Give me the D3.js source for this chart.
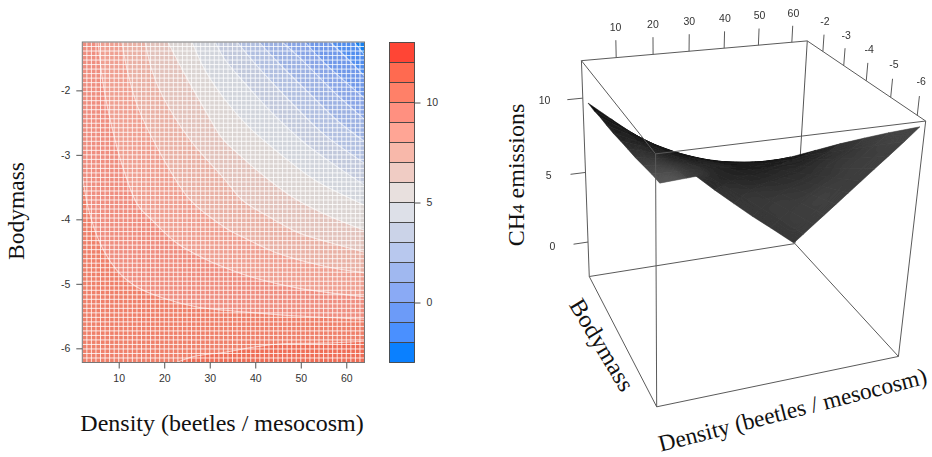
<!DOCTYPE html>
<html>
<head>
<meta charset="utf-8">
<script src="https://cdn.jsdelivr.net/npm/d3@7"></script>
<style>
  html, body { margin: 0; background: #fff; }
  svg { display: block; }
  .tick-label { font-family: 'Liberation Sans', sans-serif; font-size: 10.5px; fill: #333; }
  .title { font-family: 'Liberation Serif', serif; font-size: 24px; fill: #111; }
</style>
</head>
<body>
<svg id="chart" width="932" height="457"></svg>
<script>
// colour key: one colour per unit of CH4, from -3 up to 13
const keyBreaks = d3.range(-3, 14);
const keyColors = ['#0a80ff', '#4a90ff', '#6c9bf8', '#8aaaf5', '#a0b8f0', '#b8c8ee', '#cbd3e8', '#dde0e8',
  '#e8e0de', '#f0ccc4', '#f8b8aa', '#ffa595', '#ff9080', '#ff8068', '#ff6a50', '#ff4535'];
const keyTicks = [0, 5, 10];

const densityTicks = [10, 20, 30, 40, 50, 60];
const bodymassTicks = [-2, -3, -4, -5, -6];
const zTicks = [0, 5, 10];

// contour lines, [density, bodymass]
const lineM2 = [[61.7, -1.25], [64, -1.45]];
const lineM1 = [[56.4, -1.25], [60.6, -1.53], [64, -1.78]];
const line0 = [[50.9, -1.25], [55.3, -1.58], [64, -2.12]];
const line1 = [[45.9, -1.25], [50.3, -1.53], [56.9, -2], [64, -2.45]];
const line2 = [[40.8, -1.25], [45.2, -1.58], [51.8, -2.04], [58.4, -2.49], [64, -2.79]];
const line3 = [[36, -1.25], [39.9, -1.58], [47.4, -2.15], [54.7, -2.66], [64, -3.13]];
const line4 = [[31.2, -1.25], [33.4, -1.53], [37.1, -1.84], [43.7, -2.35], [50.9, -2.82], [57.5, -3.16], [64, -3.47]];
const line5 = [[26.1, -1.25], [29, -1.69], [33.4, -2.15], [38.6, -2.57], [45.2, -2.97], [53.1, -3.39], [60.1, -3.65], [64, -3.78]];
const line6 = [[20.8, -1.25], [24.6, -1.76], [29, -2.31], [32.7, -2.74], [37.3, -3.05], [42.1, -3.34], [48.5, -3.67], [54.7, -3.9], [64, -4.17]];
const line7 = [[15.8, -1.25], [17.3, -1.69], [19.7, -2.1], [25.7, -2.77], [33.4, -3.39], [37.1, -3.7], [43, -3.96], [49.6, -4.21], [56.9, -4.37], [64, -4.51]];
const line8 = [[10.7, -1.25], [12, -1.73], [14.2, -2.26], [19.1, -2.97], [25.7, -3.7], [33.4, -4.13], [37.7, -4.29], [44.3, -4.51], [54.7, -4.72], [64, -4.83]];
const line9 = [[5.45, -1.25], [6.55, -1.89], [8.5, -2.57], [10.9, -3.19], [14.2, -3.78], [17.3, -4.01], [22.8, -4.37], [29.4, -4.63], [33.4, -4.75], [39.9, -4.91], [49.6, -5.07], [64, -5.2]];
const line10 = [[2, -3.3], [3.25, -3.81], [5.9, -4.37], [9.6, -4.79], [14, -5.05], [19.7, -5.22], [27.2, -5.36], [33.4, -5.41], [39.9, -5.45], [49.6, -5.5], [64, -5.55]];
const line11 = [[22.4, -6.23], [26.3, -6.13], [33.4, -6.06], [39.9, -5.98], [45.9, -5.93], [54.7, -5.92], [64, -5.89]];
const contourLines = [lineM2, lineM1, line0, line1, line2, line3, line4, line5, line6, line7, line8, line9, line10, line11];
const contourLevels = d3.range(-2, 12);

// surface heights for the right panel
const surfaceDensity = [2, 8, 14, 20, 26, 32, 38, 44, 50, 56, 64];
const surfaceBodymass = [-1.25, -1.75, -2.25, -2.75, -3.25, -3.75, -4.25, -4.75, -5.25, -5.75, -6.22];
const surfaceZ = [
  [9.7, 8.51, 7.35, 6.15, 5.0, 3.85, 2.58, 1.37, 0.18, -0.93, -2.45],
  [9.74, 8.72, 7.68, 6.66, 5.68, 4.65, 3.62, 2.6, 1.5, 0.45, -1.0],
  [9.85, 8.93, 8.03, 7.17, 6.33, 5.4, 4.55, 3.72, 2.75, 1.78, 0.45],
  [9.9, 9.13, 8.38, 7.67, 6.95, 6.12, 5.42, 4.72, 3.92, 3.07, 1.9],
  [9.97, 9.33, 8.72, 8.13, 7.53, 6.85, 6.25, 5.65, 5.02, 4.33, 3.35],
  [10.1, 9.56, 9.07, 8.6, 8.12, 7.58, 7.08, 6.56, 6.07, 5.55, 4.8],
  [10.2, 9.8, 9.42, 9.07, 8.7, 8.32, 7.93, 7.5, 7.12, 6.74, 6.25],
  [10.3, 10.05, 9.78, 9.55, 9.3, 9.05, 8.78, 8.48, 8.22, 7.95, 7.7],
  [10.45, 10.3, 10.15, 10.03, 9.9, 9.78, 9.65, 9.5, 9.37, 9.25, 9.15],
  [10.6, 10.55, 10.5, 10.5, 10.5, 10.5, 10.53, 10.55, 10.55, 10.58, 10.6],
  [10.7, 10.78, 10.87, 10.96, 11.08, 11.2, 11.4, 11.6, 11.75, 11.88, 12]
];

const svg = d3.select('#chart');
const defs = svg.append('defs');
defs.append('filter').attr('id', 'soft').append('feGaussianBlur').attr('stdDeviation', 0.4);
defs.append('filter').attr('id', 'wash').append('feGaussianBlur').attr('stdDeviation', 6);

// ---- left panel ----
const x = d3.scaleLinear().domain([2, 64]).range([82.3, 364.5]);
const y = d3.scaleLinear().domain([-1.25, -6.22]).range([42, 362.5]);
const color = d3.scaleThreshold().domain(keyBreaks.slice(1, -1)).range(keyColors);

defs.append('clipPath').attr('id', 'plot-clip').append('rect')
  .attr('x', x(2)).attr('y', y(-1.25))
  .attr('width', x(64) - x(2)).attr('height', y(-6.22) - y(-1.25));

const heat = svg.append('g').attr('clip-path', 'url(#plot-clip)')
  .append('g').attr('filter', 'url(#soft)');

const contourPath = d3.line().x(d => x(d[0])).y(d => y(d[1])).curve(d3.curveCatmullRom);

function corners(level) {
  if (level === 11) return [[64, -6.22]];
  if (level === 10) return [[64, -6.22], [2, -6.22]];
  return [[64, -6.22], [2, -6.22], [2, -1.25]];
}

heat.append('rect')
  .attr('x', x(2)).attr('y', y(-1.25))
  .attr('width', x(64) - x(2)).attr('height', y(-6.22) - y(-1.25))
  .attr('fill', color(-2.5));

heat.selectAll('path.band')
  .data(contourLevels)
  .enter()
  .append('path')
  .attr('class', 'band')
  .attr('fill', d => color(d + 0.5))
  .attr('d', (d, i) => {
    const closing = corners(d).map(c => `L${x(c[0])},${y(c[1])}`).join('');
    return contourPath(contourLines[i]) + closing + 'Z';
  });

// the printed map is duller than its key
heat.append('rect')
  .attr('x', x(2)).attr('y', y(-1.25))
  .attr('width', x(64) - x(2)).attr('height', y(-6.22) - y(-1.25))
  .attr('fill', '#808080').attr('fill-opacity', 0.13);

// white outline of every levelplot cell
heat.selectAll('line.col')
  .data(d3.range(2, 65))
  .enter()
  .append('line')
  .attr('class', 'col')
  .attr('x1', d => x(d)).attr('x2', d => x(d))
  .attr('y1', y(-1.25)).attr('y2', y(-6.22))
  .attr('stroke', '#fff').attr('stroke-opacity', 0.8);

heat.selectAll('line.row')
  .data(d3.range(-6.22, -1.2, 0.07))
  .enter()
  .append('line')
  .attr('class', 'row')
  .attr('x1', x(2)).attr('x2', x(64))
  .attr('y1', d => y(d)).attr('y2', d => y(d))
  .attr('stroke', '#fff').attr('stroke-opacity', 0.8);

heat.selectAll('path.contour')
  .data(contourLines)
  .enter()
  .append('path')
  .attr('class', 'contour')
  .attr('fill', 'none')
  .attr('stroke', '#fff')
  .attr('stroke-opacity', 0.6)
  .attr('stroke-width', 1.1)
  .attr('d', contourPath);

svg.append('rect')
  .attr('x', x(2)).attr('y', y(-1.25))
  .attr('width', x(64) - x(2)).attr('height', y(-6.22) - y(-1.25))
  .attr('fill', 'none').attr('stroke', '#777');

const xAxis = svg.append('g')
  .attr('transform', `translate(0, ${y(-6.22)})`)
  .call(d3.axisBottom(x).tickValues(densityTicks).tickSize(6).tickPadding(6).tickFormat(String));
const yAxis = svg.append('g')
  .attr('transform', `translate(${x(2)}, 0)`)
  .call(d3.axisLeft(y).tickValues(bodymassTicks).tickSize(6).tickPadding(6).tickFormat(String));

// colour key
const keyY = d3.scaleLinear().domain([-3, 13]).range([362.5, 42.5]);
const keyX = [389.5, 414.5];

svg.append('g').selectAll('rect')
  .data(keyColors)
  .enter()
  .append('rect')
  .attr('x', keyX[0])
  .attr('y', (d, i) => keyY(keyBreaks[i + 1]))
  .attr('width', keyX[1] - keyX[0])
  .attr('height', (d, i) => keyY(keyBreaks[i]) - keyY(keyBreaks[i + 1]))
  .attr('fill', d => d)
  .attr('stroke', '#444')
  .attr('stroke-width', 0.9);

const keyAxis = svg.append('g')
  .attr('transform', `translate(${keyX[1]}, 0)`)
  .call(d3.axisRight(keyY).tickValues(keyTicks).tickSize(6).tickPadding(6).tickFormat(String));

[xAxis, yAxis, keyAxis].forEach(a => {
  a.select('.domain').remove();
  a.selectAll('line').attr('stroke', '#555');
  a.selectAll('text').attr('class', 'tick-label').attr('fill', null);
  a.attr('font-family', null).attr('font-size', null);
});

svg.append('text').attr('class', 'title')
  .attr('text-anchor', 'middle')
  .attr('transform', 'translate(24, 211) rotate(-90)')
  .attr('textLength', 98).attr('lengthAdjust', 'spacingAndGlyphs')
  .text('Bodymass');

svg.append('text').attr('class', 'title')
  .attr('text-anchor', 'middle')
  .attr('x', 222).attr('y', 431)
  .text('Density (beetles / mesocosm)');

// ---- right panel: a persp() box, a little wider than the surface ----
const dLo = 0.8, dHi = 64.7, mHi = -1.2, mLo = -6.3, zTop = 12.4, zBottom = -2.6;
const u = d3.scaleLinear().domain([dLo, dHi]).range([0, 1]);
const v = d3.scaleLinear().domain([mHi, mLo]).range([0, 1]);
const w = d3.scaleLinear().domain([zBottom, zTop]).range([0, 1]);

// where the box corners sit on the page, [u, v, w, px, py]
const boxCorners = [
  [0, 0, 1, 581.3, 60.7], [1, 0, 1, 807.3, 41], [1, 1, 1, 925.7, 121], [0, 1, 1, 655.7, 153.7],
  [0, 0, 0, 589.3, 276.7], [1, 0, 0, 795, 243.3], [1, 1, 0, 898.3, 356.7], [0, 1, 0, 656.7, 406.7]
];

// fit the projective camera to the corners by least squares
function fitCamera(pts) {
  const rows = [];
  pts.forEach(([a, b, c, sx, sy]) => {
    rows.push([a, b, c, 1, 0, 0, 0, 0, -sx * a, -sx * b, -sx * c, sx]);
    rows.push([0, 0, 0, 0, a, b, c, 1, -sy * a, -sy * b, -sy * c, sy]);
  });
  const n = 11;
  const m = d3.range(n).map(i => d3.range(n + 1).map(j => d3.sum(rows, r => r[i] * r[j])));
  for (let i = 0; i < n; i++) {
    let p = i;
    for (let k = i + 1; k < n; k++) if (Math.abs(m[k][i]) > Math.abs(m[p][i])) p = k;
    [m[i], m[p]] = [m[p], m[i]];
    for (let k = 0; k < n; k++) {
      if (k === i) continue;
      const f = m[k][i] / m[i][i];
      for (let j = i; j <= n; j++) m[k][j] -= f * m[i][j];
    }
  }
  return m.map((r, i) => r[n] / r[i]);
}
const cam = fitCamera(boxCorners);

function project(density, bodymass, z) {
  const a = u(density), b = v(bodymass), c = w(z);
  const d = cam[8] * a + cam[9] * b + cam[10] * c + 1;
  return [
    (cam[0] * a + cam[1] * b + cam[2] * c + cam[3]) / d,
    (cam[4] * a + cam[5] * b + cam[6] * c + cam[7]) / d
  ];
}

const boxLine = d3.line();
const edge = (p, q) => boxLine([project(...p), project(...q)]);

const right = svg.append('g').attr('filter', 'url(#soft)');

// the back edge that the surface hides
right.append('path')
  .attr('d', edge([dHi, mHi, zTop], [dHi, mHi, zBottom]))
  .attr('stroke', '#555').attr('fill', 'none');

// facets, back row first; lighter the more squarely they face the camera
const facets = [];
surfaceBodymass.slice(0, -1).forEach((m0, i) => {
  const m1 = surfaceBodymass[i + 1];
  surfaceDensity.slice(0, -1).forEach((d0, j) => {
    const d1 = surfaceDensity[j + 1];
    const quad = [[d0, m0, surfaceZ[i][j]], [d1, m0, surfaceZ[i][j + 1]], [d1, m1, surfaceZ[i + 1][j + 1]], [d0, m1, surfaceZ[i + 1][j]]];
    const o = quad.map(q => [u(q[0]), v(q[1]), w(q[2])]);
    const s = [o[2][0] - o[0][0], o[2][1] - o[0][1], o[2][2] - o[0][2]];
    const t = [o[3][0] - o[1][0], o[3][1] - o[1][1], o[3][2] - o[1][2]];
    const cross = [s[1] * t[2] - s[2] * t[1], s[2] * t[0] - s[0] * t[2], s[0] * t[1] - s[1] * t[0]];
    const screen = quad.map(q => project(...q));
    facets.push({ screen, facing: Math.abs(d3.polygonArea(screen)) / (Math.hypot(...cross) / 2) });
  });
});

const shade = d3.scaleLinear()
  .domain([0, d3.max(facets, f => f.facing)])
  .range(['#060606', '#565656'])
  .clamp(true);

// same facets as the outline, then again washed out so the steps between them vanish
defs.append('clipPath').attr('id', 'surface-clip').selectAll('path')
  .data(facets)
  .enter()
  .append('path')
  .attr('d', f => boxLine(f.screen) + 'Z');

function drawFacets(parent) {
  parent.selectAll('path')
    .data(facets)
    .enter()
    .append('path')
    .attr('d', f => boxLine(f.screen) + 'Z')
    .attr('fill', f => shade(f.facing))
    .attr('stroke', f => shade(f.facing))
    .attr('stroke-width', 0.5);
}
drawFacets(right.append('g'));
drawFacets(right.append('g').attr('clip-path', 'url(#surface-clip)').append('g').attr('filter', 'url(#wash)'));

// the rest of the box goes over the surface
const boxEdges = [
  [[dLo, mHi, zTop], [dHi, mHi, zTop]], [[dHi, mHi, zTop], [dHi, mLo, zTop]],
  [[dHi, mLo, zTop], [dLo, mLo, zTop]], [[dLo, mLo, zTop], [dLo, mHi, zTop]],
  [[dLo, mHi, zBottom], [dHi, mHi, zBottom]], [[dHi, mHi, zBottom], [dHi, mLo, zBottom]],
  [[dHi, mLo, zBottom], [dLo, mLo, zBottom]], [[dLo, mLo, zBottom], [dLo, mHi, zBottom]],
  [[dLo, mHi, zTop], [dLo, mHi, zBottom]], [[dHi, mLo, zTop], [dHi, mLo, zBottom]],
  [[dLo, mLo, zTop], [dLo, mLo, zBottom]]
];
right.append('g').selectAll('path')
  .data(boxEdges)
  .enter()
  .append('path')
  .attr('d', d => edge(d[0], d[1]))
  .attr('stroke', '#5a5a5a')
  .attr('fill', 'none');

// ticks stick out of the box along z, or against density on the z axis
const tickSets = [
  ...densityTicks.map(t => ({ from: [t, mHi, zTop], to: [t, mHi, zTop + 1.1], at: [t, mHi, zTop + 1.95], label: t })),
  ...bodymassTicks.map(t => ({ from: [dHi, t, zTop], to: [dHi, t, zTop + 1.1], at: [dHi, t, zTop + 1.95], label: t })),
  ...zTicks.map(t => ({ from: [dLo, mHi, t], to: [dLo - 4.1, mHi, t], at: [dLo - 10, mHi, t + 0.13], label: t }))
];

right.append('g').selectAll('path')
  .data(tickSets)
  .enter()
  .append('path')
  .attr('d', d => edge(d.from, d.to))
  .attr('stroke', '#5a5a5a')
  .attr('fill', 'none');

right.append('g').selectAll('text')
  .data(tickSets)
  .enter()
  .append('text')
  .attr('class', 'tick-label')
  .attr('text-anchor', 'middle')
  .attr('dominant-baseline', 'central')
  .attr('x', d => project(...d.at)[0])
  .attr('y', d => project(...d.at)[1])
  .text(d => d.label);

const chTitle = svg.append('text').attr('class', 'title')
  .attr('text-anchor', 'middle')
  .attr('transform', 'translate(524, 175) rotate(-90)');
chTitle.append('tspan').text('CH');
chTitle.append('tspan').style('font-size', '17px').text('4');
chTitle.append('tspan').text(' emissions');

svg.append('text').attr('class', 'title')
  .attr('text-anchor', 'middle')
  .attr('transform', 'translate(595, 349) rotate(59)')
  .attr('textLength', 103).attr('lengthAdjust', 'spacingAndGlyphs')
  .text('Bodymass');

svg.append('text').attr('class', 'title')
  .attr('text-anchor', 'middle')
  .attr('transform', 'translate(794.5, 417.5) rotate(-14.4)')
  .style('font-size', '23.4px')
  .text('Density (beetles / mesocosm)');
</script>
</body>
</html>
